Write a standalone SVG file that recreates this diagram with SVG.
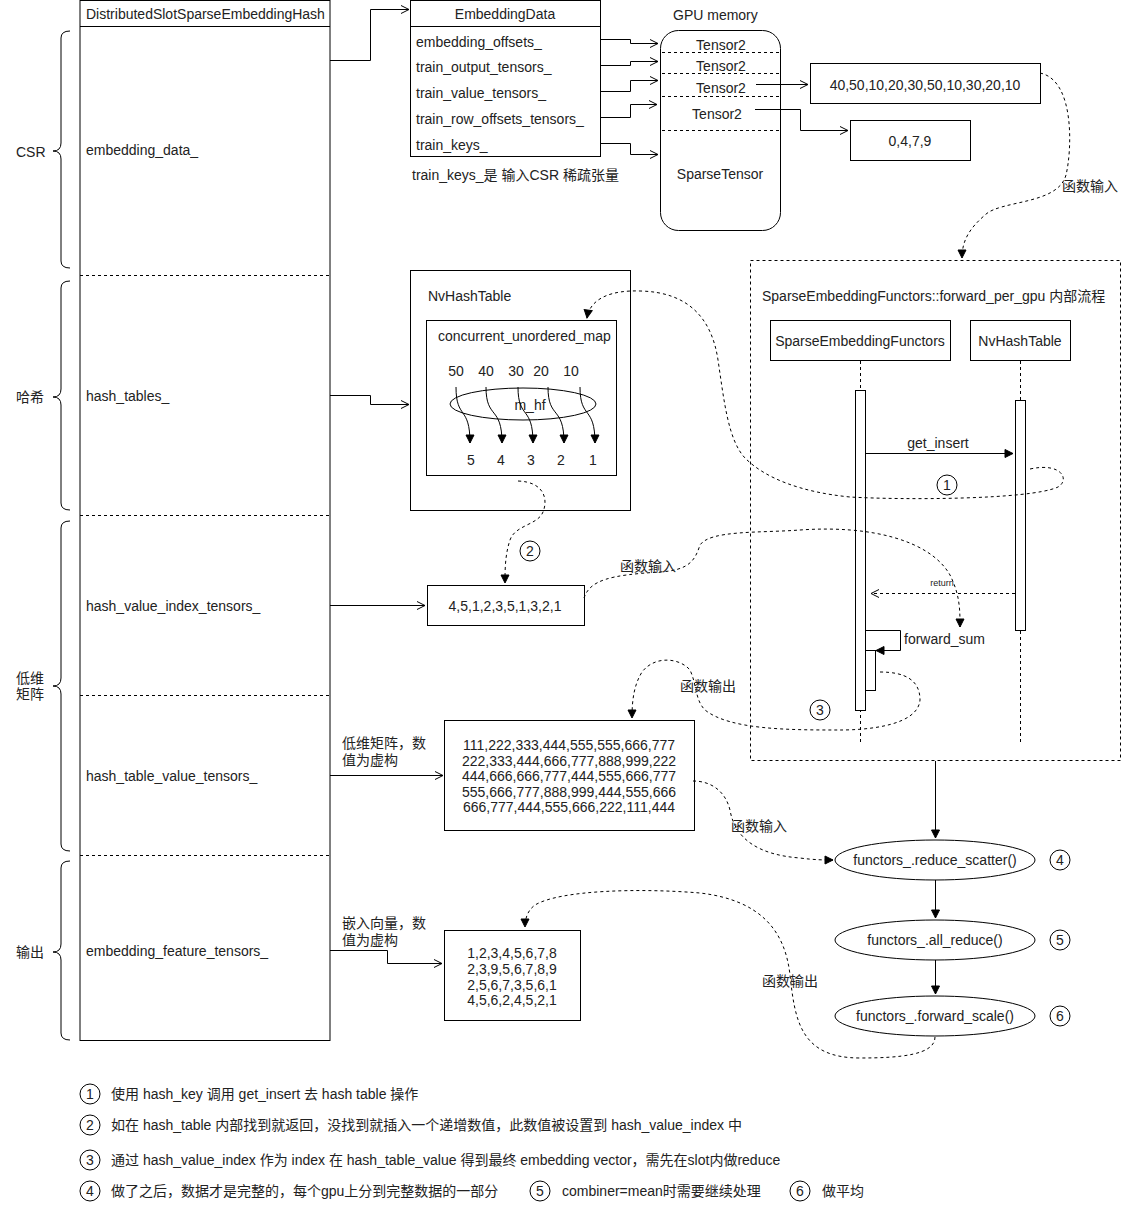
<svg xmlns="http://www.w3.org/2000/svg" width="1131" height="1206" viewBox="0 0 1131 1206">
<style>
.t{font-family:"Liberation Sans","Noto Sans CJK SC",sans-serif;font-size:14px;fill:#222}
.c{text-anchor:middle}
.s{font-size:9px}
.box{fill:#fff;stroke:#000;stroke-width:1}
.ln{fill:none;stroke:#000;stroke-width:1}
.dl{fill:none;stroke:#000;stroke-width:1;stroke-dasharray:3 3}
.cv{fill:none;stroke:#000;stroke-width:1;stroke-dasharray:3 3}
.oa{marker-end:url(#open)}
.fa{marker-end:url(#block)}
</style>
<defs>
<marker id="open" markerUnits="userSpaceOnUse" markerWidth="12" markerHeight="12" refX="9" refY="5" orient="auto">
<path d="M1,1 L9,5 L1,9" fill="none" stroke="#000" stroke-width="1"/>
</marker>
<marker id="block" markerUnits="userSpaceOnUse" markerWidth="12" markerHeight="12" refX="9" refY="5" orient="auto">
<path d="M1,1 L9,5 L1,9 Z" fill="#000" stroke="#000" stroke-width="1"/>
</marker>
</defs>
<rect width="1131" height="1206" fill="#fff"/>

<g id="braces">
<path class="ln" d="M70,31 Q61,31 61,38 L61,143 Q61,151 53,151 Q61,151 61,159 L61,261 Q61,268 70,268"/>
<text class="t" x="16" y="157">CSR</text>
<path class="ln" d="M70,281 Q61,281 61,288 L61,389 Q61,397 53,397 Q61,397 61,405 L61,503 Q61,510 70,510"/>
<text class="t" x="16" y="402">哈希</text>
<path class="ln" d="M70,521 Q61,521 61,528 L61,678 Q61,686 53,686 Q61,686 61,694 L61,844 Q61,851 70,851"/>
<text class="t" x="16" y="683">低维</text>
<text class="t" x="16" y="699">矩阵</text>
<path class="ln" d="M70,861 Q61,861 61,868 L61,944 Q61,952 53,952 Q61,952 61,960 L61,1033 Q61,1040 70,1040"/>
<text class="t" x="16" y="957">输出</text>
</g>

<g id="DistributedSlotSparseEmbeddingHash">
<rect class="box" x="80" y="0.5" width="250" height="1040"/>
<line class="ln" x1="80" y1="26.5" x2="330" y2="26.5"/>
<line class="dl" x1="80" y1="275.5" x2="330" y2="275.5"/>
<line class="dl" x1="80" y1="515.5" x2="330" y2="515.5"/>
<line class="dl" x1="80" y1="695.5" x2="330" y2="695.5"/>
<line class="dl" x1="80" y1="855.5" x2="330" y2="855.5"/>
<text class="t" x="86" y="19">DistributedSlotSparseEmbeddingHash</text>
<text class="t" x="86" y="155">embedding_data_</text>
<text class="t" x="86" y="401">hash_tables_</text>
<text class="t" x="86" y="611">hash_value_index_tensors_</text>
<text class="t" x="86" y="781">hash_table_value_tensors_</text>
<text class="t" x="86" y="956">embedding_feature_tensors_</text>
</g>

<g id="EmbeddingData">
<rect class="box" x="410.5" y="0.5" width="190" height="156"/>
<line class="ln" x1="410.5" y1="26.5" x2="600.5" y2="26.5"/>
<text class="t c" x="505" y="19">EmbeddingData</text>
<text class="t" x="416" y="47">embedding_offsets_</text>
<text class="t" x="416" y="72">train_output_tensors_</text>
<text class="t" x="416" y="98">train_value_tensors_</text>
<text class="t" x="416" y="124">train_row_offsets_tensors_</text>
<text class="t" x="416" y="150">train_keys_</text>
</g>
<text id="note-train-keys" class="t" x="412" y="180">train_keys_是 输入CSR 稀疏张量</text>

<g id="GPUmemory">
<text class="t" x="673" y="20">GPU memory</text>
<rect class="box" x="660.5" y="30.5" width="120" height="200" rx="18"/>
<line class="dl" x1="662" y1="52.5" x2="779" y2="52.5"/>
<line class="dl" x1="662" y1="73.5" x2="779" y2="73.5"/>
<line class="dl" x1="662" y1="96.5" x2="779" y2="96.5"/>
<line class="dl" x1="662" y1="130.5" x2="779" y2="130.5"/>
<text class="t c" x="721" y="50">Tensor2</text>
<text class="t c" x="721" y="71">Tensor2</text>
<text class="t c" x="721" y="93">Tensor2</text>
<text class="t c" x="717" y="119">Tensor2</text>
<text class="t c" x="720" y="179">SparseTensor</text>
</g>

<g id="values-box">
<rect class="box" x="810.5" y="63.5" width="230" height="40"/>
<text class="t c" x="925" y="90">40,50,10,20,30,50,10,30,20,10</text>
</g>
<g id="offsets-box">
<rect class="box" x="850.5" y="120.5" width="120" height="40"/>
<text class="t c" x="910" y="146">0,4,7,9</text>
</g>

<g id="NvHashTable-outer">
<rect class="box" x="410.5" y="270.5" width="220" height="240"/>
<text class="t" x="428" y="301">NvHashTable</text>
</g>
<g id="concurrent_unordered_map">
<rect class="box" x="426.5" y="320.5" width="190" height="155"/>
<text class="t" x="438" y="341">concurrent_unordered_map</text>
<text class="t c" x="456" y="376">50</text>
<text class="t c" x="486" y="376">40</text>
<text class="t c" x="516" y="376">30</text>
<text class="t c" x="541" y="376">20</text>
<text class="t c" x="571" y="376">10</text>
<ellipse cx="523" cy="404" rx="73" ry="16" fill="none" stroke="#000"/>
<text class="t c" x="530" y="410">m_hf</text>
<path class="ln fa" d="M456,387 C456,420 470,405 470,443"/>
<path class="ln fa" d="M486,387 C486,420 502,405 502,443"/>
<path class="ln fa" d="M518,387 C518,420 533,405 533,443"/>
<path class="ln fa" d="M548,387 C548,420 564,405 564,443"/>
<path class="ln fa" d="M580,387 C580,420 595,405 595,443"/>
<text class="t c" x="471" y="465">5</text>
<text class="t c" x="501" y="465">4</text>
<text class="t c" x="531" y="465">3</text>
<text class="t c" x="561" y="465">2</text>
<text class="t c" x="593" y="465">1</text>
</g>

<g id="index-box">
<rect class="box" x="427.5" y="585.5" width="157" height="40"/>
<text class="t c" x="505" y="611">4,5,1,2,3,5,1,3,2,1</text>
</g>

<g id="value-box">
<rect class="box" x="444.5" y="720.5" width="250" height="110"/>
<text class="t c" x="569" y="750">111,222,333,444,555,555,666,777</text>
<text class="t c" x="569" y="766">222,333,444,666,777,888,999,222</text>
<text class="t c" x="569" y="781">444,666,666,777,444,555,666,777</text>
<text class="t c" x="569" y="797">555,666,777,888,999,444,555,666</text>
<text class="t c" x="569" y="812">666,777,444,555,666,222,111,444</text>
</g>

<g id="feature-box">
<rect class="box" x="444.5" y="930.5" width="136" height="90"/>
<text class="t c" x="512" y="958">1,2,3,4,5,6,7,8</text>
<text class="t c" x="512" y="974">2,3,9,5,6,7,8,9</text>
<text class="t c" x="512" y="990">2,5,6,7,3,5,6,1</text>
<text class="t c" x="512" y="1005">4,5,6,2,4,5,2,1</text>
</g>

<g id="forward_per_gpu">
<rect x="750.5" y="260.5" width="370" height="500" fill="none" stroke="#000" stroke-dasharray="3 3"/>
<text class="t" x="762" y="301">SparseEmbeddingFunctors::forward_per_gpu 内部流程</text>
</g>
<g id="seq-SparseEmbeddingFunctors">
<rect class="box" x="770.5" y="320.5" width="180" height="40"/>
<text class="t c" x="860" y="346">SparseEmbeddingFunctors</text>
<line class="dl" x1="860.5" y1="361" x2="860.5" y2="745"/>
<rect class="box" x="855.5" y="390.5" width="10" height="320"/>
<rect class="box" x="865.5" y="650.5" width="10" height="40"/>
</g>
<g id="seq-NvHashTable">
<rect class="box" x="970.5" y="320.5" width="100" height="40"/>
<text class="t c" x="1020" y="346">NvHashTable</text>
<line class="dl" x1="1020.5" y1="361" x2="1020.5" y2="745"/>
<rect class="box" x="1015.5" y="400.5" width="10" height="230"/>
</g>

<g id="reduce_scatter">
<ellipse cx="935" cy="860" rx="100" ry="20" class="box"/>
<text class="t c" x="935" y="865">functors_.reduce_scatter()</text>
</g>
<g id="all_reduce">
<ellipse cx="935" cy="940" rx="100" ry="20" class="box"/>
<text class="t c" x="935" y="945">functors_.all_reduce()</text>
</g>
<g id="forward_scale">
<ellipse cx="935" cy="1016" rx="100" ry="20" class="box"/>
<text class="t c" x="935" y="1021">functors_.forward_scale()</text>
</g>

<g id="step-markers">
<circle cx="947" cy="485" r="10" fill="none" stroke="#000"/><text class="t c" x="947" y="490">1</text>
<circle cx="530" cy="551" r="10" fill="none" stroke="#000"/><text class="t c" x="530" y="556">2</text>
<circle cx="820" cy="710" r="10" fill="none" stroke="#000"/><text class="t c" x="820" y="715">3</text>
<circle cx="1060" cy="860" r="10" fill="none" stroke="#000"/><text class="t c" x="1060" y="865">4</text>
<circle cx="1060" cy="940" r="10" fill="none" stroke="#000"/><text class="t c" x="1060" y="945">5</text>
<circle cx="1060" cy="1016" r="10" fill="none" stroke="#000"/><text class="t c" x="1060" y="1021">6</text>
</g>

<g id="connectors">
<path class="ln oa" d="M330,60.5 H370.5 V9.5 H409"/>
<path class="ln oa" d="M600,39.5 H630.5 V43.5 H658"/>
<path class="ln oa" d="M600,65.5 H630.5 V61.5 H658"/>
<path class="ln oa" d="M600,91.5 H630.5 V80.5 H658"/>
<path class="ln oa" d="M600,117.5 H630.5 V104.5 H657"/>
<path class="ln oa" d="M600,143.5 H630.5 V154.5 H658"/>
<path class="ln oa" d="M756,84.5 H808"/>
<path class="ln oa" d="M755,109.5 H800.5 V130.5 H848"/>
<path class="ln oa" d="M330,395.5 H370.5 V404.5 H409"/>
<path class="ln oa" d="M330,605.5 H425"/>
<path class="ln oa" d="M330,775.5 H443"/>
<path class="ln oa" d="M330,950.5 H387.5 V963.5 H442"/>
<path class="ln fa" d="M865,453.5 H1013"/>
<path class="dl oa" d="M1015,593.5 H871"/>
<path class="ln fa" d="M866,630.5 H900.5 V650.5 H876"/>
<path class="ln fa" d="M935.5,761 V838"/>
<path class="ln fa" d="M935.5,880 V918"/>
<path class="ln fa" d="M935.5,960 V994"/>
<path class="cv fa" d="M1040,73 C1075,80 1072,150 1066,175 C1058,205 1000,200 985,215 C970,228 962,240 962,258"/>
<path class="cv fa" d="M1030,469 C1062,462 1070,480 1058,487 C1030,500 900,500 850,497 C800,492 765,478 745,458 C728,440 724,400 718,360 C712,320 690,292 640,291 C612,290 590,298 587,318"/>
<path class="cv fa" d="M518,481 C545,482 548,500 543,512 C538,525 515,525 510,540 C505,555 505,570 505,583"/>
<path class="cv fa" d="M584,598 C590,580 610,575 660,572 C690,570 695,560 700,545 C710,530 760,533 800,530 C870,525 930,540 950,575 C960,595 960,610 960,627"/>
<path class="cv fa" d="M880,672 C905,672 920,680 920,700 C918,725 870,730 840,730 C790,730 730,730 705,710 C695,700 697,685 690,670 C680,658 655,655 642,672 C634,685 632,700 632,718"/>
<path class="cv fa" d="M693,781 C710,781 725,790 730,810 C735,840 760,855 800,858 C815,860 825,860 833,860"/>
<path class="cv fa" d="M935,1037 C935,1055 900,1058 860,1058 C800,1058 795,1020 790,975 C785,930 760,900 700,893 C640,888 560,890 535,905 C528,910 525,918 525,927"/>
</g>

<g id="connector-labels">
<text class="t" x="1062" y="191">函数输入</text>
<text class="t" x="620" y="571">函数输入</text>
<text class="t" x="680" y="691">函数输出</text>
<text class="t" x="731" y="831">函数输入</text>
<text class="t" x="762" y="986">函数输出</text>
<text class="t c" x="938" y="448">get_insert</text>
<text class="t c s" x="942" y="586">return</text>
<text class="t" x="904" y="644">forward_sum</text>
<text class="t" x="342" y="748">低维矩阵，数</text>
<text class="t" x="342" y="765">值为虚构</text>
<text class="t" x="342" y="928">嵌入向量，数</text>
<text class="t" x="342" y="945">值为虚构</text>
</g>

<g id="legend">
<circle cx="90" cy="1094" r="10" fill="none" stroke="#000"/><text class="t c" x="90" y="1099">1</text>
<text class="t" x="111" y="1099">使用 hash_key 调用 get_insert 去 hash table 操作</text>
<circle cx="90" cy="1125" r="10" fill="none" stroke="#000"/><text class="t c" x="90" y="1130">2</text>
<text class="t" x="111" y="1130">如在 hash_table 内部找到就返回，没找到就插入一个递增数值，此数值被设置到  hash_value_index 中</text>
<circle cx="90" cy="1160" r="10" fill="none" stroke="#000"/><text class="t c" x="90" y="1165">3</text>
<text class="t" x="111" y="1165">通过 hash_value_index 作为 index 在 hash_table_value 得到最终 embedding vector，需先在slot内做reduce</text>
<circle cx="90" cy="1191" r="10" fill="none" stroke="#000"/><text class="t c" x="90" y="1196">4</text>
<text class="t" x="111" y="1196">做了之后，数据才是完整的，每个gpu上分到完整数据的一部分</text>
<circle cx="540" cy="1191" r="10" fill="none" stroke="#000"/><text class="t c" x="540" y="1196">5</text>
<text class="t" x="562" y="1196">combiner=mean时需要继续处理</text>
<circle cx="800" cy="1191" r="10" fill="none" stroke="#000"/><text class="t c" x="800" y="1196">6</text>
<text class="t" x="822" y="1196">做平均</text>
</g>
</svg>
